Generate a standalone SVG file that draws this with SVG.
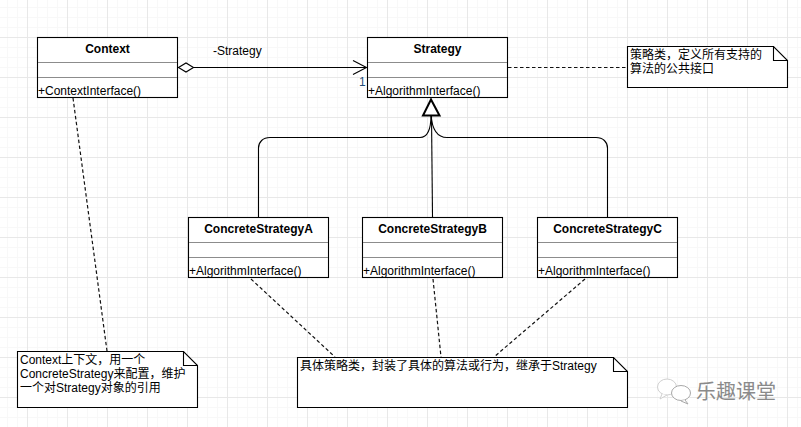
<svg xmlns="http://www.w3.org/2000/svg" width="801" height="427" viewBox="0 0 801 427">
<style>
text{font-family:"Liberation Sans","Noto Sans CJK SC",sans-serif;font-size:12px;fill:#000}
.t{font-weight:bold;text-anchor:middle}
.b{fill:#fff;stroke:#000;stroke-width:1.100}
.d{stroke:#8c8c8c;stroke-width:1;fill:none}
.c{fill:none;stroke:#000;stroke-width:1.100}
.dash{fill:none;stroke:#111;stroke-width:1.200;stroke-dasharray:3.500 2.500}
</style>
<defs>
<pattern id="g1" width="10" height="10" x="7" y="7" patternUnits="userSpaceOnUse"><path d="M.5 0V10M0 .5H10" fill="none" stroke="#f8f8f8"/></pattern>
<pattern id="g2" width="40" height="40" x="27" y="37" patternUnits="userSpaceOnUse"><path d="M.5 0V40M0 .5H40" fill="none" stroke="#e8e8e8"/></pattern>
</defs>
<rect width="801" height="427" fill="#fff"/>
<rect width="801" height="427" fill="url(#g1)"/>
<rect width="801" height="427" fill="url(#g2)"/>
<g id="connectors">
<path class="c" d="M191 67.500H366"/>
<path class="c" d="M353 60.500L366.500 67.500L353 74.500"/>
<path class="b" d="M178.500 67.500L186 63L193.500 67.500L186 72L178.500 67.500Z"/>
<path class="c" d="M431 115C431 130 427 137.500 420 137.500H270C263 137.500 258.500 142 258.500 148V217"/>
<path class="c" d="M431 115C432 128 436 137.500 447 137.500H596C603 137.500 607.500 142 607.500 148V217"/>
<path class="c" d="M431.500 115L432.500 217"/>
<path d="M431 99.500L423 115.500H439.500Z" fill="#fff" stroke="#000" stroke-width="2"/>
<path class="dash" d="M508 67.500H627"/>
<path class="dash" d="M73 98L107 351"/>
<path class="dash" d="M251 279L335 357"/>
<path class="dash" d="M433 279L441 357"/>
<path class="dash" d="M585 279L494 357"/>
</g>
<g id="context"><rect class="b" x="37.500" y="37.500" width="140" height="60"/><path class="d" d="M38 62.500H177M38 77.500H177"/><text class="t" x="107.500" y="53">Context</text><text x="38" y="95">+ContextInterface()</text></g>
<g id="strategy"><rect class="b" x="367.500" y="37.500" width="140" height="60"/><path class="d" d="M368 62.500H507M368 77.500H507"/><text class="t" x="437.500" y="53">Strategy</text><text x="368" y="95">+AlgorithmInterface()</text></g>
<g id="concreteA"><rect class="b" x="188.500" y="217.500" width="140" height="60"/><path class="d" d="M189 242.500H328M189 257.500H328"/><text class="t" x="258.500" y="233">ConcreteStrategyA</text><text x="189" y="275">+AlgorithmInterface()</text></g>
<g id="concreteB"><rect class="b" x="362.500" y="217.500" width="140" height="60"/><path class="d" d="M363 242.500H502M363 257.500H502"/><text class="t" x="432.500" y="233">ConcreteStrategyB</text><text x="363" y="275">+AlgorithmInterface()</text></g>
<g id="concreteC"><rect class="b" x="537.500" y="217.500" width="140" height="60"/><path class="d" d="M538 242.500H677M538 257.500H677"/><text class="t" x="607.500" y="233">ConcreteStrategyC</text><text x="538" y="275">+AlgorithmInterface()</text></g>
<g id="labels"><text x="213" y="55">-Strategy</text><text x="359" y="86" style="fill:#1f4e79">1</text></g>
<g id="note-strategy"><path class="b" d="M627.500 46.500H773.500L787.500 60.500V87.500H627.500Z"/><path class="c" d="M773.500 46.500V60.500H787.500"/><text x="630" y="59">策略类，定义所有支持的</text><text x="630" y="73">算法的公共接口</text></g>
<g id="note-context"><path class="b" d="M17.500 351.500H183.500L197.500 365.500V407.500H17.500Z"/><path class="c" d="M183.500 351.500V365.500H197.500"/><text x="20" y="364">Context上下文，用一个</text><text x="20" y="378">ConcreteStrategy来配置，维护</text><text x="20" y="392">一个对Strategy对象的引用</text></g>
<g id="note-concrete"><path class="b" d="M297.500 357.500H613.500L627.500 371.500V407.500H297.500Z"/><path class="c" d="M613.500 357.500V371.500H627.500"/><text x="300" y="370">具体策略类，封装了具体的算法或行为，继承于Strategy</text></g>
<g id="watermark"><ellipse cx="667" cy="387" rx="9.500" ry="8" fill="#fff" stroke="#d0d0d0"/><path d="M662 394L660 399L667 395" fill="#fff" stroke="#d0d0d0"/><ellipse cx="681" cy="393" rx="9.500" ry="7.500" fill="#fff" stroke="#a8a8a8"/><path d="M685 400L688 404L681 401" fill="#fff" stroke="#a8a8a8"/><text x="696" y="399" style="font-size:20px;fill:#8a8a8a">乐趣课堂</text></g>
</svg>
